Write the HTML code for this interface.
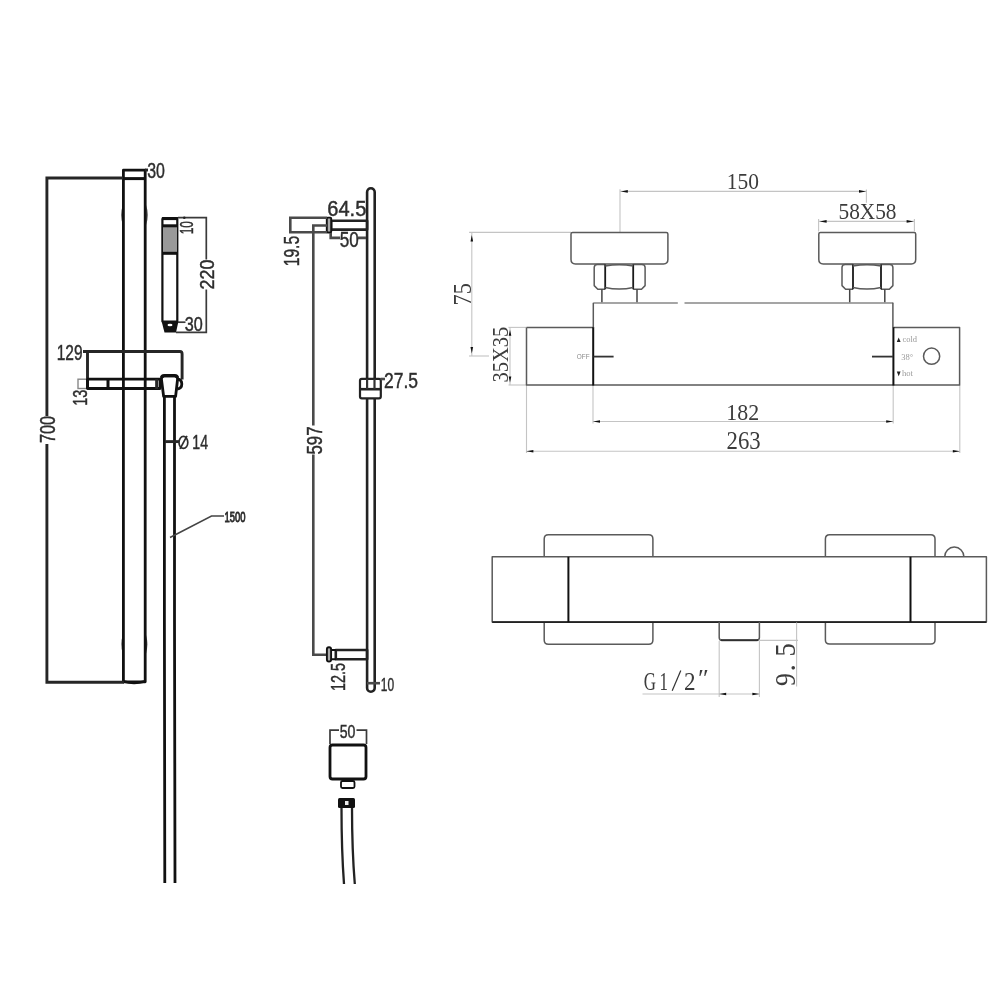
<!DOCTYPE html>
<html><head><meta charset="utf-8">
<style>
html,body{margin:0;padding:0;background:#fff;width:1000px;height:1000px;overflow:hidden}
svg{display:block;will-change:transform}
.k{fill:none;stroke:#111;stroke-width:2.8;stroke-linejoin:round}
.kt{fill:none;stroke:#111;stroke-width:3}
.d{fill:none;stroke:#262626;stroke-width:2.9}
.mk{fill:none;stroke:#222;stroke-width:2.6;stroke-linejoin:round}
.md{fill:none;stroke:#4a4a4a;stroke-width:2.6}
.d1{fill:none;stroke:#3a3a3a;stroke-width:1.7}
.t{font-family:"Liberation Sans",sans-serif;fill:#2e2e2e;stroke:#2e2e2e;stroke-width:0.45px}
.g{fill:none;stroke:#5a5a5a;stroke-width:1.5;stroke-linejoin:round}
.gk{fill:none;stroke:#111;stroke-width:2}
.dm{fill:none;stroke:#c4c4c4;stroke-width:1.1}
.s{font-family:"Liberation Serif",serif;fill:#3c3c3c}
.ar{fill:#111;stroke:none}
</style></head>
<body>
<svg width="1000" height="1000" viewBox="0 0 1000 1000">
<rect width="1000" height="1000" fill="#fff"/>
<g id="left">
  <!-- rail -->
  <rect class="k" x="123.4" y="170.2" width="21.8" height="511.6"/>
  <line class="kt" x1="123" y1="178.6" x2="146" y2="178.6"/>
  <!-- bracket bulges -->
  <path d="M122.6,205 Q120.2,215 122.6,225 Z" fill="#111"/>
  <path d="M146.3,205 Q148.8,215 146.3,225 Z" fill="#111"/>
  <path d="M122.6,635 Q120.4,644.3 122.6,653.6 Z" fill="#111"/>
  <path d="M146.2,635 Q148.4,644.3 146.2,653.6 Z" fill="#111"/>
  <path d="M123,681.2 Q134,684.6 145.4,681.2" fill="none" stroke="#111" stroke-width="2.6"/>
  <!-- 700 dim -->
  <path class="d" d="M123,178 H46.9 V416 M46.9,444 V682.3 H124"/>
  <!-- 30 top -->
  <line class="d" x1="145" y1="170" x2="148" y2="170"/>

  <!-- hand shower -->
  <rect class="k" x="162.4" y="218.1" width="14.9" height="103.6" rx="1" style="stroke-width:2.2"/>
  <line class="kt" x1="162" y1="218.6" x2="178" y2="218.6"/>
  <rect x="163" y="226" width="14" height="27" fill="#999"/>
  <line class="kt" x1="162" y1="225.8" x2="178" y2="225.8"/>
  <line class="kt" x1="162" y1="253.3" x2="178" y2="253.3"/>
  <path d="M161.5,321 H178.5 L176,332.5 H164.5 Z" fill="#111"/>
  <ellipse cx="170" cy="325" rx="2.5" ry="1.2" fill="#fff"/>
  <!-- 220 dim -->
  <path class="d1" d="M178,217.6 H206.3 V259.5 M206.3,289.5 V332.3 H176"/>
  <circle cx="184.3" cy="217.8" r="1.3" fill="#222"/>
  <line class="d1" x1="178" y1="322.2" x2="185.5" y2="322.2"/>

  <!-- 129 dim -->
  <path class="d" d="M83,351.5 H180 Q182.1,351.5 182.1,354 V379.5 M87.5,351.5 V388"/>
  <!-- slide bar -->
  <rect x="78" y="379.2" width="9.5" height="9.3" fill="none" stroke="#888" stroke-width="1.4"/>
  <rect class="k" x="87.5" y="379.2" width="72.5" height="9.3"/>
  <line class="kt" x1="87.5" y1="379" x2="87.5" y2="389"/>
  <line class="kt" x1="108" y1="379" x2="108" y2="389"/>
  <line class="d" x1="156.6" y1="379" x2="156.6" y2="389"/>
  <!-- holder -->
  <path class="k" d="M161.4,379 Q161.4,375.8 164.4,375.8 H174.6 Q177.6,375.8 177.6,379 L175.6,396.3 H163.6 Z"/>
  <path d="M161.6,377.6 Q162,375.6 164.6,375.6 H174.4 Q177,375.6 177.4,377.6" fill="none" stroke="#111" stroke-width="3.2"/>
  <path class="k" d="M177.6,379 Q181.8,379.6 181.8,384 Q181.8,388.6 177.2,389"/>
  <!-- 13 -->

  <!-- hose -->
  <path class="k" d="M164.4,396.6 V620 Q164.2,760 164.8,883"/>
  <path class="k" d="M174.5,396.6 V620 Q174.6,760 175,883"/>
  <!-- Ø14 -->
  <line class="d" x1="165" y1="441.6" x2="179" y2="441.6"/>
  <ellipse cx="183.4" cy="442.4" rx="4.4" ry="6" fill="none" stroke="#2e2e2e" stroke-width="1.7"/>
  <line x1="180" y1="448.8" x2="187" y2="435.8" stroke="#2e2e2e" stroke-width="1.7"/>
  <!-- 1500 -->
  <path d="M170,537.5 L211.5,516 H224" fill="none" stroke="#444" stroke-width="1.5"/>
</g>

<!-- ========== MIDDLE: rail side view ========== -->
<g id="mid">
  <path class="mk" d="M367.1,192 A3.8,3.8 0 0 1 374.7,192 V688 A3.8,3.8 0 0 1 367.1,688 Z"/>
  <!-- top bracket -->
  <rect class="mk" x="331.2" y="220.7" width="35.9" height="8.9"/>
  <rect x="326.8" y="217.6" width="4.4" height="14.9" rx="0.8" fill="#aaa" stroke="#111" stroke-width="1.9"/>
  <!-- 19.5 dim -->
  <path class="md" d="M327,217.8 H290.3 V232.2 H327"/>
  <!-- 64.5 -->
  <!-- 50 -->
  <path class="md" d="M330.7,233 V237.9 H340 M358,237.9 H366"/>
  <!-- 597 dim -->
  <path class="md" d="M327,225.5 H313.3 V425.5 M313.3,454.5 V654.8 H326.5"/>
  <!-- slider -->
  <rect x="360" y="378.8" width="20.8" height="19.6" rx="1.8" fill="#fff" stroke="#222" stroke-width="2.2"/>
  <line class="mk" x1="360" y1="389.2" x2="380.5" y2="389.2"/>
  <line x1="367.1" y1="379" x2="367.1" y2="389" stroke="#333" stroke-width="2.2"/>
  <line x1="374.5" y1="379" x2="374.5" y2="389" stroke="#333" stroke-width="2.2"/>
  <line class="md" x1="380.5" y1="379" x2="385" y2="379"/>
  <!-- bottom bracket -->
  <rect class="mk" x="335.8" y="650" width="31.3" height="9.2"/>
  <path d="M331,650 H335.8 M331,659.2 H335.8" stroke="#111" stroke-width="2" fill="none"/>
  <rect x="326.9" y="647.3" width="4.2" height="14.3" rx="2" fill="#aaa" stroke="#111" stroke-width="1.9"/>
  <!-- 10 -->
  <line class="md" x1="367" y1="683.2" x2="380" y2="683.2"/>
  <!-- wall outlet -->
  <path class="d1" d="M330,744 V730.2 H339 M356.5,730.2 H366.5 V744"/>
  <rect x="330" y="745" width="36" height="34" rx="2.5" fill="none" stroke="#111" stroke-width="2.8"/>
  <rect x="341" y="781" width="13.5" height="7" rx="1.5" fill="none" stroke="#111" stroke-width="1.8"/>
  <rect x="338" y="798" width="17" height="10" rx="1.5" fill="#111"/>
  <rect x="345" y="801" width="3.5" height="4" fill="#eee"/>
  <path class="mk" d="M341.5,808 Q341.5,850 344,884" style="stroke-width:2.3"/>
  <path class="mk" d="M352,808 Q352,850 354.8,884" style="stroke-width:2.3"/>
</g>

<!-- ========== RIGHT TOP: front view ========== -->
<g id="rt">
  <!-- dims -->
  <line class="dm" x1="620" y1="189.2" x2="620" y2="233"/>
  <line class="dm" x1="866.4" y1="189.6" x2="866.4" y2="202.8"/>
  <line class="dm" x1="620" y1="191.4" x2="866.4" y2="191.4"/>
  <path class="ar" d="M620.8,191.4 l7,-1.3 v2.6 z"/>
  <path class="ar" d="M866,191.4 l-7,-1.3 v2.6 z"/>

  <line class="dm" x1="818.6" y1="219" x2="818.6" y2="231.5"/>
  <line class="dm" x1="914.4" y1="219" x2="914.4" y2="231.5"/>
  <line class="dm" x1="818.6" y1="221.4" x2="914.4" y2="221.4"/>
  <path class="ar" d="M819.6,221.4 l7,-1.3 v2.6 z"/>
  <path class="ar" d="M913.6,221.4 l-7,-1.3 v2.6 z"/>

  <line class="dm" x1="469.1" y1="232.4" x2="571" y2="232.4"/>
  <line class="dm" x1="469" y1="356" x2="489" y2="356"/>
  <line class="dm" x1="471.8" y1="232.4" x2="471.8" y2="356"/>
  <path class="ar" d="M471.8,235 l-1.3,6.5 h2.6 z"/>
  <path class="ar" d="M471.8,353.5 l-1.3,-6.5 h2.6 z"/>

  <line class="dm" x1="508.5" y1="327.4" x2="526" y2="327.4"/>
  <line class="dm" x1="508.5" y1="385" x2="526" y2="385"/>
  <line class="dm" x1="510" y1="327.4" x2="510" y2="385"/>
  <path class="ar" d="M510,329.8 l-1.3,6 h2.6 z"/>
  <path class="ar" d="M510,382.4 l-1.3,-6 h2.6 z"/>

  <line class="dm" x1="526.5" y1="385" x2="526.5" y2="453"/>
  <line class="dm" x1="593" y1="385" x2="593" y2="423.5"/>
  <line class="dm" x1="893.2" y1="385" x2="893.2" y2="423.5"/>
  <line class="dm" x1="959.8" y1="385" x2="959.8" y2="453"/>
  <line class="dm" x1="593" y1="421.5" x2="893.2" y2="421.5"/>
  <path class="ar" d="M593,421.5 l7,-1.3 v2.6 z"/>
  <path class="ar" d="M893.2,421.5 l-7,-1.3 v2.6 z"/>
  <line class="dm" x1="526.4" y1="451.3" x2="959.8" y2="451.3"/>
  <path class="ar" d="M526.4,451.3 l7,-1.3 v2.6 z"/>
  <path class="ar" d="M959.8,451.3 l-7,-1.3 v2.6 z"/>

  <!-- handles + nuts + stems -->
  <g id="hn">
  <path class="g" d="M572.6,232.4 H666.3 Q667.9,232.4 667.9,234 V259.6 Q667.9,264 663.5,264 H575.4 Q571,264 571,259.6 V234 Q571,232.4 572.6,232.4 Z"/>
  <path class="g" d="M605.2,264.4 H597.4 Q594.2,264.4 594.2,267.6 V285.6 L597.8,289.2 H605.2"/>
  <path class="g" d="M633.2,264.4 H641.9 Q645.1,264.4 645.1,267.6 V285.6 L641.5,289.2 H633.2"/>
  <path d="M605.2,264.4 V289.2 M633.2,264.4 V289.2" stroke="#1a1a1a" stroke-width="1.8" fill="none"/>
  <path class="g" d="M605.2,265.9 Q619.2,263.4 633.2,265.9 M605.2,287.4 Q619.2,290.6 633.2,287.4"/>
  <path class="g" d="M601.9,289.2 V302.6 M637,289.2 V302.6" style="stroke:#444"/>
  </g>
  <use href="#hn" transform="translate(247.8,0)"/>
  <!-- body -->
  <path class="g" d="M593.4,302.9 H677.8 M684.5,302.9 H893.2" style="stroke:#888"/>
  <path class="g" d="M526.5,327.4 H593.2 M526.5,327.4 V385 H959.6 V327.6 H893.4"/>
  <line class="gk" x1="593.2" y1="327" x2="593.2" y2="385.5"/>
  <line class="g" x1="593.3" y1="302.8" x2="593.3" y2="327.4"/>
  <line class="gk" x1="893.4" y1="327" x2="893.4" y2="385.5"/>
  <line class="g" x1="892.9" y1="302.8" x2="892.9" y2="327.6"/>
  <line class="g" x1="593.4" y1="356.6" x2="613.6" y2="356.6" style="stroke:#333;stroke-width:1.8"/>
  <line class="g" x1="872" y1="356.6" x2="893.2" y2="356.6" style="stroke:#333;stroke-width:1.8"/>
  <circle class="g" cx="931.6" cy="356.2" r="8.1"/>
  <text x="576.8" y="359.2" textLength="12.8" lengthAdjust="spacingAndGlyphs" style="font-family:'Liberation Sans',sans-serif;font-size:7.5px;fill:#8a8a8a">OFF</text>
  <path d="M896.8,342 L898.7,337.4 L900.6,342 Z" fill="#222"/>
  <path d="M896.8,371.6 L898.7,376.2 L900.6,371.6 Z" fill="#222"/>
  <text x="902.4" y="341.8" textLength="14.6" lengthAdjust="spacingAndGlyphs" style="font-family:'Liberation Serif',serif;font-size:8px;fill:#9a9a9a">cold</text>
  <text x="901.3" y="359.8" textLength="12" lengthAdjust="spacingAndGlyphs" style="font-family:'Liberation Serif',serif;font-size:8px;fill:#9a9a9a">38°</text>
  <text x="902" y="376.2" textLength="11" lengthAdjust="spacingAndGlyphs" style="font-family:'Liberation Serif',serif;font-size:8px;fill:#9a9a9a">hot</text>
</g>

<!-- ========== RIGHT BOTTOM: top view ========== -->
<g id="rb">
  <!-- handles -->
  <path class="g" d="M544.2,556.9 V539 Q544.2,534.8 548.4,534.8 H648.7 Q652.9,534.8 652.9,539 V556.9"/>
  <path class="g" d="M544.2,622 V640 Q544.2,644.3 548.4,644.3 H648.7 Q652.9,644.3 652.9,640 V622"/>
  <path class="g" d="M825.4,556.9 V539 Q825.4,534.7 829.6,534.7 H930.8 Q935,534.7 935,539 V556.9"/>
  <path class="g" d="M825.4,622 V640 Q825.4,644 829.6,644 H930.8 Q935,644 935,640 V622"/>
  <path class="g" d="M944.7,556.7 A9.6,9.6 0 0 1 963.9,556.7"/>
  <!-- body -->
  <rect class="g" x="492.2" y="556.8" width="494.2" height="65.3"/>
  <line x1="492.2" y1="622.1" x2="986.4" y2="622.1" stroke="#222" stroke-width="1.7"/>
  <line class="gk" x1="568.4" y1="556.8" x2="568.4" y2="622.1"/>
  <line class="gk" x1="910.5" y1="556.8" x2="910.5" y2="622.1"/>
  <!-- outlet -->
  <path class="g" d="M719.2,622.1 V637.5 Q719.2,640.4 722,640.4 H756.6 Q759.4,640.4 759.4,637.5 V622.1"/>
  <line x1="721" y1="640" x2="758" y2="640" stroke="#222" stroke-width="1.6"/>
  <!-- dims -->
  <line class="dm" x1="719.2" y1="641" x2="719.2" y2="697"/>
  <line class="dm" x1="759.4" y1="641" x2="759.4" y2="697"/>
  <line class="dm" x1="642.5" y1="694" x2="759.4" y2="694"/>
  <path class="ar" d="M719.2,694 l7,-1.3 v2.6 z"/>
  <path class="ar" d="M759.4,694 l-7,-1.3 v2.6 z"/>
  <g class="s" style="font-size:26px">
    <text transform="translate(643.85,690) scale(0.65,1)">G</text>
    <text transform="translate(659.4,690) scale(0.65,1)">1</text>
    <text transform="translate(684.1,690) scale(0.89,1)">2</text>
    <text transform="translate(698,686.5)">″</text>
  </g>
  <line x1="672.2" y1="690.8" x2="680.8" y2="670.6" stroke="#333" stroke-width="1.2"/>
  <g class="s" style="font-size:29.5px">
    <text transform="translate(795.3,686) rotate(-90) scale(0.875,1)">9</text>
    <text transform="translate(795.3,671.6) rotate(-90)">.</text>
    <text transform="translate(795.3,656.5) rotate(-90) scale(0.9,1)">5</text>
  </g>
  <line class="dm" x1="759.4" y1="640.4" x2="798" y2="640.4"/>
  <line class="dm" x1="796.6" y1="622.5" x2="796.6" y2="686.6"/>
</g>

<text id="tx0" class="t" x="147.15" y="178.00" style="font-size:21.60px" textLength="17.70" lengthAdjust="spacingAndGlyphs">30</text>
<text id="tx1" class="t" x="184.75" y="331.00" style="font-size:20.45px" textLength="18.03" lengthAdjust="spacingAndGlyphs">30</text>
<text id="tx2" class="t" x="56.70" y="360.20" style="font-size:21.60px" textLength="25.85" lengthAdjust="spacingAndGlyphs">129</text>
<text id="tx3" class="t" x="192.35" y="449.40" style="font-size:19.55px" textLength="15.72" lengthAdjust="spacingAndGlyphs">14</text>
<text id="tx4" class="t" x="224.50" y="522.40" style="font-size:14.00px;stroke-width:0.9px" textLength="21.00" lengthAdjust="spacingAndGlyphs">1500</text>
<text id="tx5" class="t" x="327.25" y="216.00" style="font-size:21.88px" textLength="39.04" lengthAdjust="spacingAndGlyphs">64.5</text>
<text id="tx6" class="t" x="339.75" y="247.00" style="font-size:21.80px" textLength="19.03" lengthAdjust="spacingAndGlyphs">50</text>
<text id="tx7" class="t" x="384.00" y="388.00" style="font-size:22.07px" textLength="34.06" lengthAdjust="spacingAndGlyphs">27.5</text>
<text id="tx8" class="t" x="380.80" y="691.00" style="font-size:19.00px" textLength="13.30" lengthAdjust="spacingAndGlyphs">10</text>
<text id="tx9" class="t" x="339.70" y="738.00" style="font-size:19.00px" textLength="15.69" lengthAdjust="spacingAndGlyphs">50</text>
<text id="tx10" class="t" transform="translate(55.00,443.12) rotate(-90)" style="font-size:21.88px" textLength="27.10" lengthAdjust="spacingAndGlyphs">700</text>
<text id="tx11" class="t" transform="translate(214.00,289.40) rotate(-90)" style="font-size:19.53px" textLength="29.74" lengthAdjust="spacingAndGlyphs">220</text>
<text id="tx12" class="t" transform="translate(193.00,234.25) rotate(-90)" style="font-size:19.00px" textLength="13.13" lengthAdjust="spacingAndGlyphs">10</text>
<text id="tx13" class="t" transform="translate(87.00,405.75) rotate(-90)" style="font-size:20.45px" textLength="16.11" lengthAdjust="spacingAndGlyphs">13</text>
<text id="tx14" class="t" transform="translate(299.40,266.30) rotate(-90)" style="font-size:22.14px" textLength="30.49" lengthAdjust="spacingAndGlyphs">19.5</text>
<text id="tx15" class="t" transform="translate(322.00,454.50) rotate(-90)" style="font-size:21.80px" textLength="28.11" lengthAdjust="spacingAndGlyphs">597</text>
<text id="tx16" class="t" transform="translate(345.00,691.00) rotate(-90)" style="font-size:20.35px" textLength="28.00" lengthAdjust="spacingAndGlyphs">12.5</text>
<text id="tx17" class="s" x="726.75" y="189.00" style="font-size:23.94px" textLength="32.16" lengthAdjust="spacingAndGlyphs">150</text>
<text id="tx18" class="s" x="838.50" y="219.00" style="font-size:22.19px" textLength="58.04" lengthAdjust="spacingAndGlyphs">58X58</text>
<text id="tx19" class="s" x="726.35" y="420.40" style="font-size:23.10px" textLength="32.81" lengthAdjust="spacingAndGlyphs">182</text>
<text id="tx20" class="s" x="726.50" y="449.20" style="font-size:24.17px" textLength="34.16" lengthAdjust="spacingAndGlyphs">263</text>
<text id="tx21" class="s" transform="translate(470.60,305.55) rotate(-90)" style="font-size:24.88px" textLength="22.42" lengthAdjust="spacingAndGlyphs">75</text>
<text id="tx22" class="s" transform="translate(507.80,382.45) rotate(-90)" style="font-size:23.40px" textLength="55.63" lengthAdjust="spacingAndGlyphs">35X35</text>
</svg>
</body></html>
